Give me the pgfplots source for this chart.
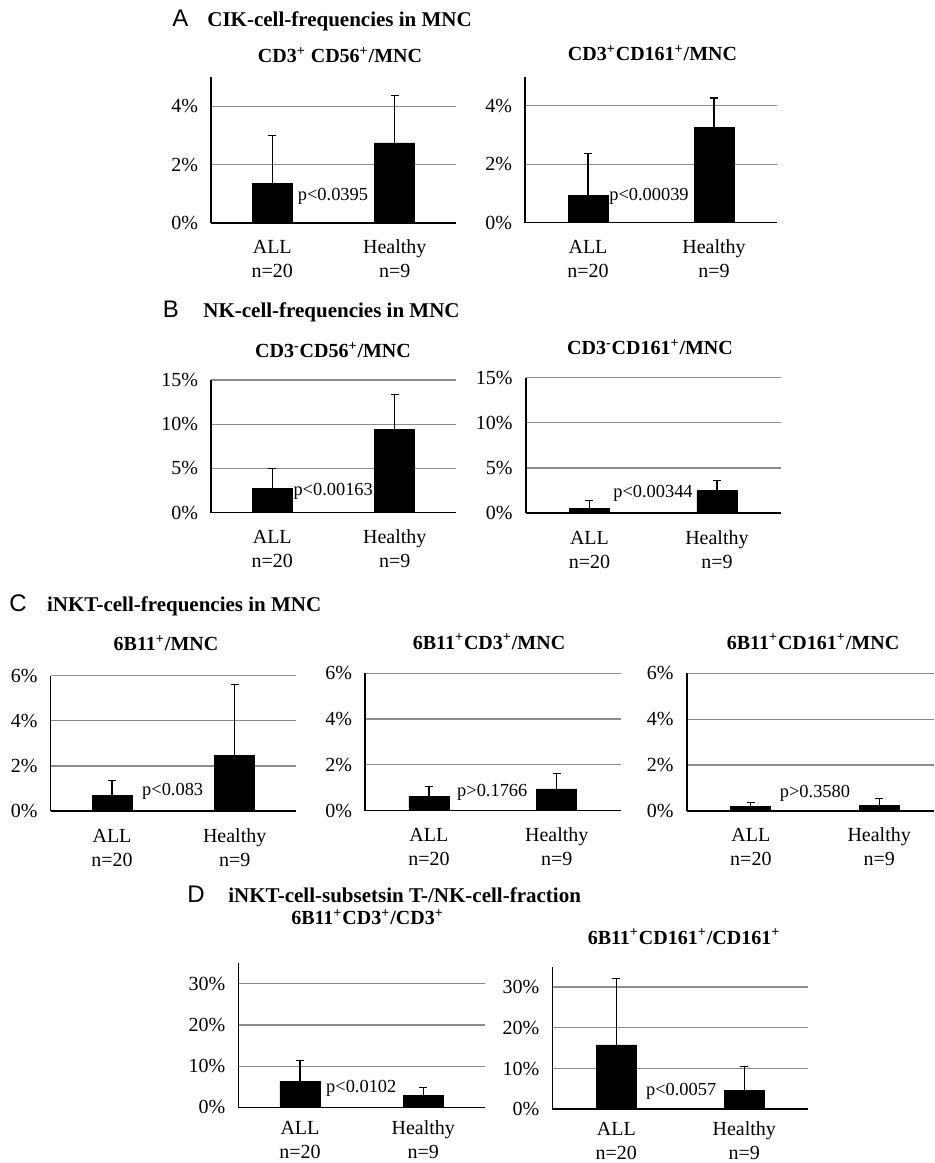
\documentclass[border=0pt]{standalone}
\usepackage{fontspec}
\setmainfont{Liberation Serif}
\newfontfamily\panelfont{Liberation Sans}
\usepackage{pgfplots}
\pgfplotsset{compat=1.18}
\pgfplotsset{
 panel/.style={
  scale only axis, anchor=south west,
  axis x line=bottom, axis y line=left,
  axis line style={-, line width=0.8pt, black},
  xmin=-0.5, xmax=1.5, ymin=0,
  xtick={0,1}, xticklabels={{\strut ALL\\n=20},{\strut Healthy\\n=9}},
  xticklabel style={align=center, font=\fontsize{10}{12}\selectfont, yshift=-3.5pt},
  major tick length=0pt,
  ymajorgrids, grid style={black!45, line width=0.6pt},
  yticklabel style={font=\fontsize{10}{12}\selectfont, xshift=-3pt},
  ybar, bar width=20pt,
  clip=false,
 },
 bars/.style={fill=black, draw=black,
  error bars/.cd, y dir=plus, y explicit,
  error bar style={line width=0.6pt, black},
  error mark options={rotate=90, line width=0.6pt, mark size=2pt, black}},
}
\newcommand{\ptitle}[1]{\fontsize{10}{12}\selectfont\bfseries #1}
\newcommand{\plab}{\fontsize{9.2}{11}\selectfont}
\newcommand{\supx}{\textsuperscript}
\begin{document}
\begin{tikzpicture}
\path[use as bounding box] (0,0) rectangle (467pt,581.5pt);

% headings
\node[anchor=base, inner sep=0pt, font=\panelfont\fontsize{12}{14}\selectfont] at (90.25pt,568.25pt) {A};
\node[anchor=base west, inner sep=0pt, font=\fontsize{10.5}{12}\selectfont\bfseries] at (103.5pt,568.25pt) {CIK-cell-frequencies in MNC};
\node[anchor=base, inner sep=0pt, font=\panelfont\fontsize{12}{14}\selectfont] at (85.5pt,422.85pt) {B};
\node[anchor=base west, inner sep=0pt, font=\fontsize{10.5}{12}\selectfont\bfseries] at (101.5pt,422.85pt) {NK-cell-frequencies in MNC};
\node[anchor=base, inner sep=0pt, font=\panelfont\fontsize{12}{14}\selectfont] at (9pt,275.65pt) {C};
\node[anchor=base west, inner sep=0pt, font=\fontsize{10.5}{12}\selectfont\bfseries] at (23.35pt,275.65pt) {iNKT-cell-frequencies in MNC};
\node[anchor=base, inner sep=0pt, font=\panelfont\fontsize{12}{14}\selectfont] at (98pt,130.15pt) {D};
\node[anchor=base west, inner sep=0pt, font=\fontsize{10.5}{12}\selectfont\bfseries] at (114pt,130.15pt) {iNKT-cell-subsetsin T-/NK-cell-fraction};

% titles
\node at (170pt,554pt) {\ptitle{CD3\supx{+} CD56\supx{+}/MNC}};
\node at (326.25pt,555pt) {\ptitle{CD3\supx{+}CD161\supx{+}/MNC}};
\node at (166.5pt,406.5pt) {\ptitle{CD3\supx{-}CD56\supx{+}/MNC}};
\node at (325pt,408pt) {\ptitle{CD3\supx{-}CD161\supx{+}/MNC}};
\node at (83pt,259.85pt) {\ptitle{6B11\supx{+}/MNC}};
\node at (244.5pt,260.65pt) {\ptitle{6B11\supx{+}CD3\supx{+}/MNC}};
\node at (406.5pt,260.65pt) {\ptitle{6B11\supx{+}CD161\supx{+}/MNC}};
\node at (183.75pt,122.85pt) {\ptitle{6B11\supx{+}CD3\supx{+}/CD3\supx{+}}};
\node at (342pt,113.15pt) {\ptitle{6B11\supx{+}CD161\supx{+}/CD161\supx{+}}};

% A1
\begin{axis}[panel, at={(105.5pt,470pt)}, width=122.5pt, height=73pt, ymax=5,
  ytick={0,2,4}, yticklabels={0\%,2\%,4\%}]
\addplot[bars] coordinates {(0,1.35) +- (0,1.65) (1,2.74) +- (0,1.63)};
\end{axis}
% A2
\begin{axis}[panel, at={(262.5pt,470.15pt)}, width=126pt, height=73pt, ymax=5,
  ytick={0,2,4}, yticklabels={0\%,2\%,4\%}]
\addplot[bars] coordinates {(0,0.94) +- (0,1.43) (1,3.25) +- (0,1.02)};
\end{axis}
% B1
\begin{axis}[panel, at={(105.5pt,325.15pt)}, width=122.5pt, height=66.35pt, ymax=15,
  ytick={0,5,10,15}, yticklabels={0\%,5\%,10\%,15\%}]
\addplot[bars] coordinates {(0,2.71) +- (0,2.31) (1,9.36) +- (0,4.04)};
\end{axis}
% B2
\begin{axis}[panel, at={(262.85pt,324.85pt)}, width=127.5pt, height=67.8pt, ymax=15,
  ytick={0,5,10,15}, yticklabels={0\%,5\%,10\%,15\%}]
\addplot[bars] coordinates {(0,0.51) +- (0,0.89) (1,2.48) +- (0,1.14)};
\end{axis}
% C1
\begin{axis}[panel, at={(25.35pt,175.85pt)}, width=122.65pt, height=67.8pt, ymax=6,
  ytick={0,2,4,6}, yticklabels={0\%,2\%,4\%,6\%}]
\addplot[bars] coordinates {(0,0.72) +- (0,0.66) (1,2.49) +- (0,3.13)};
\end{axis}
% C2
\begin{axis}[panel, at={(182.5pt,176.15pt)}, width=127.85pt, height=68.7pt, ymax=6,
  ytick={0,2,4,6}, yticklabels={0\%,2\%,4\%,6\%}]
\addplot[bars] coordinates {(0,0.64) +- (0,0.41) (1,0.95) +- (0,0.68)};
\end{axis}
% C3
\begin{axis}[panel, at={(343.35pt,176pt)}, width=123.65pt, height=68.85pt, ymax=6, xmax=1.427,
  ytick={0,2,4,6}, yticklabels={0\%,2\%,4\%,6\%}]
\addplot[bars] coordinates {(0,0.19) +- (0,0.17) (1,0.25) +- (0,0.29)};
\end{axis}
% D1
\begin{axis}[panel, at={(119.15pt,27.85pt)}, width=123.35pt, height=72pt, ymax=35,
  ytick={0,10,20,30}, yticklabels={0\%,10\%,20\%,30\%},
  xticklabel style={yshift=2pt}]
\addplot[bars] coordinates {(0,6.2) +- (0,5.1) (1,2.8) +- (0,2.1)};
\end{axis}
% D2
\begin{axis}[panel, at={(276.15pt,26.85pt)}, width=128pt, height=71.3pt, ymax=35,
  ytick={0,10,20,30}, yticklabels={0\%,10\%,20\%,30\%},
  xticklabel style={yshift=2.5pt}]
\addplot[bars] coordinates {(0,15.8) +- (0,16.3) (1,4.7) +- (0,5.9)};
\end{axis}

% p-values
\node[font=\plab] at (166.5pt,483.5pt) {p<0.0395};
\node[font=\plab] at (324.5pt,483.5pt) {p<0.00039};
\node[font=\plab] at (166.6pt,336pt) {p<0.00163};
\node[font=\plab] at (326.5pt,335pt) {p<0.00344};
\node[font=\plab] at (86.35pt,186pt) {p<0.083};
\node[font=\plab] at (246.15pt,185.15pt) {p>0.1766};
\node[font=\plab] at (407.5pt,184.85pt) {p>0.3580};
\node[font=\plab] at (180.65pt,37.35pt) {p<0.0102};
\node[font=\plab] at (340.6pt,36pt) {p<0.0057};
\end{tikzpicture}
\end{document}
